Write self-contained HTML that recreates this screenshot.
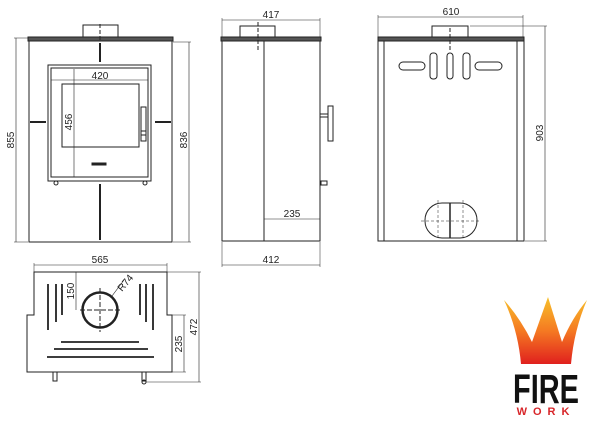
<!DOCTYPE html>
<html><head><meta charset="utf-8"><style>
html,body{margin:0;padding:0;background:#fff;width:600px;height:424px;overflow:hidden}
svg{display:block}
text{font-family:"Liberation Sans",sans-serif;font-size:10px;fill:#222}
</style></head><body>
<svg width="600" height="424" viewBox="0 0 600 424" xmlns="http://www.w3.org/2000/svg">
<defs>
<linearGradient id="fl" x1="0" y1="0" x2="0" y2="1">
<stop offset="0" stop-color="#f7c02a"/><stop offset="0.5" stop-color="#f57a22"/><stop offset="1" stop-color="#e0201e"/>
</linearGradient>
</defs>
<g fill="none" stroke="#222" stroke-width="1">
<!-- FRONT VIEW -->
<rect x="83" y="25" width="35" height="13"/>
<rect x="28" y="37" width="145" height="4" fill="#555"/>
<rect x="29" y="41" width="143" height="201"/>
<rect x="48" y="65" width="103" height="116"/>
<rect x="51" y="68" width="97" height="109"/>
<rect x="62" y="84" width="77" height="63"/>
<rect x="141" y="107" width="5" height="34"/>
<line x1="141" y1="131" x2="146" y2="131"/><line x1="141" y1="135" x2="146" y2="135"/>
<line x1="100" y1="24" x2="100" y2="40" stroke-dasharray="4,2"/>
<line x1="100" y1="43" x2="100" y2="62" stroke-width="2"/>
<line x1="100" y1="184" x2="100" y2="240" stroke-width="2"/>
<line x1="30" y1="122" x2="46" y2="122" stroke-width="2"/>
<line x1="155" y1="122" x2="171" y2="122" stroke-width="2"/>
<rect x="92" y="163" width="14" height="2" fill="#222"/>
<circle cx="56" cy="183" r="2"/><circle cx="145" cy="183" r="2"/>
<line x1="16" y1="38" x2="16" y2="242" stroke-width="0.6"/>
<line x1="14" y1="38" x2="28" y2="38" stroke-width="0.5"/><line x1="14" y1="242" x2="28" y2="242" stroke-width="0.5"/>
<line x1="189" y1="42" x2="189" y2="242" stroke-width="0.6"/>
<line x1="173" y1="42" x2="191" y2="42" stroke-width="0.5"/><line x1="173" y1="242" x2="191" y2="242" stroke-width="0.5"/>
<line x1="51" y1="80" x2="148" y2="80" stroke-width="0.6"/>
<line x1="74" y1="69" x2="74" y2="177" stroke-width="0.6"/>

<!-- SIDE VIEW -->
<rect x="240" y="26" width="35" height="12"/>
<rect x="221" y="37" width="100" height="4" fill="#555"/>
<rect x="222" y="41" width="98" height="200"/>
<line x1="264" y1="41" x2="264" y2="241"/>
<line x1="258" y1="22" x2="258" y2="50" stroke-dasharray="4,2"/>
<rect x="328" y="106" width="5" height="35"/>
<line x1="320" y1="114" x2="328" y2="114"/><line x1="320" y1="117" x2="328" y2="117"/>
<rect x="321" y="181" width="6" height="4"/>
<line x1="222" y1="20" x2="320" y2="20" stroke-width="0.6"/>
<line x1="222" y1="18" x2="222" y2="37" stroke-width="0.5"/><line x1="320" y1="18" x2="320" y2="37" stroke-width="0.5"/>
<line x1="222" y1="265" x2="320" y2="265" stroke-width="0.6"/>
<line x1="222" y1="242" x2="222" y2="267" stroke-width="0.5"/><line x1="320" y1="242" x2="320" y2="267" stroke-width="0.5"/>
<line x1="264" y1="219" x2="320" y2="219" stroke-width="0.6"/>

<!-- REAR VIEW -->
<rect x="432" y="26" width="36" height="12"/>
<rect x="378" y="37" width="146" height="4" fill="#555"/>
<rect x="378" y="41" width="146" height="200"/>
<line x1="384" y1="41" x2="384" y2="241"/><line x1="517" y1="41" x2="517" y2="241"/>
<line x1="450" y1="28" x2="450" y2="50" stroke-dasharray="4,2"/>
<rect x="399" y="62" width="26" height="8" rx="4"/>
<rect x="475" y="62" width="27" height="8" rx="4"/>
<rect x="430" y="53" width="7" height="26" rx="3"/>
<rect x="447" y="53" width="6" height="26" rx="3"/>
<rect x="463" y="53" width="7" height="26" rx="3"/>
<rect x="425" y="203" width="52" height="35" rx="17"/>
<line x1="450" y1="203" x2="450" y2="238" stroke-width="1.5"/>
<g stroke-dasharray="3,2" stroke-width="0.5"><line x1="421" y1="221" x2="479" y2="221"/><line x1="438" y1="200" x2="438" y2="240"/><line x1="463" y1="200" x2="463" y2="240"/></g>
<line x1="378" y1="17" x2="523" y2="17" stroke-width="0.6"/>
<line x1="378" y1="15" x2="378" y2="37" stroke-width="0.5"/><line x1="523" y1="15" x2="523" y2="37" stroke-width="0.5"/>
<line x1="545" y1="26" x2="545" y2="241" stroke-width="0.6"/>
<line x1="470" y1="26" x2="547" y2="26" stroke-width="0.5"/><line x1="525" y1="241" x2="547" y2="241" stroke-width="0.5"/>

<!-- TOP VIEW -->
<path d="M34 272 H167 V315 H172 V372 H27 V315 H34 Z"/>
<circle cx="100" cy="310" r="17.5" stroke-width="2.5"/>
<line x1="80" y1="310" x2="120" y2="310" stroke-dasharray="5,2"/>
<line x1="100" y1="288" x2="100" y2="332" stroke-dasharray="5,2"/>
<line x1="112" y1="296" x2="124" y2="280" stroke-width="0.6"/>
<g stroke-width="1.8">
<line x1="48" y1="284" x2="48" y2="330"/><line x1="56" y1="284" x2="56" y2="322"/><line x1="62" y1="284" x2="62" y2="315"/>
<line x1="140" y1="284" x2="140" y2="315"/><line x1="146" y1="284" x2="146" y2="322"/><line x1="153" y1="284" x2="153" y2="330"/>
<line x1="61" y1="342" x2="139" y2="342"/><line x1="54" y1="349" x2="148" y2="349"/><line x1="47" y1="357" x2="154" y2="357"/>
</g>
<rect x="53" y="372" width="4" height="9"/><rect x="142" y="372" width="4" height="9"/><circle cx="144" cy="382" r="2"/>
<line x1="34" y1="265" x2="167" y2="265" stroke-width="0.6"/>
<line x1="34" y1="263" x2="34" y2="272" stroke-width="0.5"/><line x1="167" y1="263" x2="167" y2="272" stroke-width="0.5"/>
<line x1="76" y1="272" x2="76" y2="310" stroke-width="0.6"/>
<line x1="184" y1="315" x2="184" y2="372" stroke-width="0.6"/>
<line x1="172" y1="315" x2="186" y2="315" stroke-width="0.5"/><line x1="172" y1="372" x2="186" y2="372" stroke-width="0.5"/>
<line x1="199" y1="272" x2="199" y2="382" stroke-width="0.6"/>
<line x1="167" y1="272" x2="201" y2="272" stroke-width="0.5"/><line x1="146" y1="382" x2="201" y2="382" stroke-width="0.5"/>
</g>
<!-- labels -->
<text x="100" y="79" text-anchor="middle">420</text>
<text transform="translate(72,122) rotate(-90)" text-anchor="middle">456</text>
<text transform="translate(14,140) rotate(-90)" text-anchor="middle">855</text>
<text transform="translate(187,140) rotate(-90)" text-anchor="middle">836</text>
<text x="271" y="18" text-anchor="middle">417</text>
<text x="292" y="217" text-anchor="middle">235</text>
<text x="271" y="263" text-anchor="middle">412</text>
<text x="451" y="15" text-anchor="middle">610</text>
<text transform="translate(543,133) rotate(-90)" text-anchor="middle">903</text>
<text x="100" y="263" text-anchor="middle">565</text>
<text transform="translate(74,291) rotate(-90)" text-anchor="middle">150</text>
<text transform="translate(122,292) rotate(-50)">R74</text>
<text transform="translate(182,344) rotate(-90)" text-anchor="middle">235</text>
<text transform="translate(197,327) rotate(-90)" text-anchor="middle">472</text>
<!-- logo -->
<path d="M504 300 Q518 330 521 364 L571 364 Q574 330 587 300 Q572 318 562 342 L548 297 L532 342 Q520 318 504 300 Z" fill="url(#fl)"/>
<text x="546" y="403" text-anchor="middle" style="font-family:'Liberation Sans Narrow','Liberation Sans',sans-serif;font-weight:bold;font-size:41px;fill:#111" textLength="66" lengthAdjust="spacingAndGlyphs">FIRE</text>
<text x="546" y="415" text-anchor="middle" style="font-weight:bold;font-size:11px;fill:#d8262a;letter-spacing:6px">WORK</text>
</svg>
</body></html>
